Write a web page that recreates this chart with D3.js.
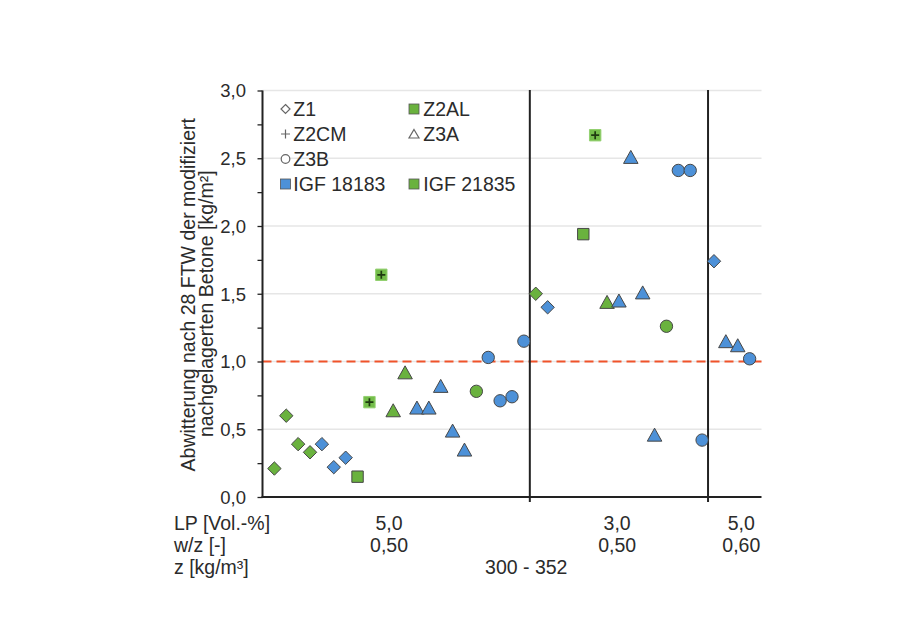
<!DOCTYPE html>
<html>
<head>
<meta charset="utf-8">
<script src="https://cdn.jsdelivr.net/npm/d3@7"></script>
<style>
  html, body { margin: 0; padding: 0; background: #fff; }
  svg text { font-family: "Liberation Sans", Arial, Helvetica, sans-serif; fill: #2b2b2b; }
</style>
</head>
<body>
<svg id="chart" width="909" height="639"></svg>
<script>
// Abwitterung nach 28 Frost-Tau-Wechseln, je Mischung und Forschungsprojekt
const positions = [1, 2, 3, 4, 5, 6, 7, 8, 9, 10, 11, 12, 13, 14, 15, 16, 17, 18, 19, 20, 21, 22,
                   23, 24, 27, 28, 29, 30, 31, 32, 33, 34, 35, 36, 37,
                   38, 39, 40, 41];
const scaling = [0.21, 0.60, 0.39, 0.33, 0.39, 0.22, 0.29, 0.15, 0.70, 1.64, 0.64, 0.92, 0.66, 0.66, 0.82, 0.49, 0.35, 0.78, 1.03, 0.71, 0.74, 1.15,
                 1.50, 1.40, 1.94, 2.67, 1.44, 1.45, 2.51, 1.51, 0.46, 1.26, 2.41, 2.41, 0.42,
                 1.74, 1.15, 1.12, 1.02];
const mixes = ["Z1", "Z1", "Z1", "Z1", "Z1", "Z1", "Z1", "Z2AL", "Z2CM", "Z2CM", "Z3A", "Z3A", "Z3A", "Z3A", "Z3A", "Z3A", "Z3A", "Z3B", "Z3B", "Z3B", "Z3B", "Z3B",
               "Z1", "Z1", "Z2AL", "Z2CM", "Z3A", "Z3A", "Z3A", "Z3A", "Z3A", "Z3B", "Z3B", "Z3B", "Z3B",
               "Z1", "Z3A", "Z3A", "Z3B"];
const projects = ["IGF 21835", "IGF 21835", "IGF 21835", "IGF 21835", "IGF 18183", "IGF 18183", "IGF 18183", "IGF 21835", "IGF 21835", "IGF 21835",
                  "IGF 21835", "IGF 21835", "IGF 18183", "IGF 18183", "IGF 18183", "IGF 18183", "IGF 18183", "IGF 21835", "IGF 18183", "IGF 18183", "IGF 18183", "IGF 18183",
                  "IGF 21835", "IGF 18183", "IGF 21835", "IGF 21835", "IGF 21835", "IGF 18183", "IGF 18183", "IGF 18183", "IGF 18183", "IGF 21835", "IGF 18183", "IGF 18183", "IGF 18183",
                  "IGF 18183", "IGF 18183", "IGF 18183", "IGF 18183"];

// group separators and the limit value
const separators = [22.5, 37.5];
const limitValue = 1.0;
const yTicks = [0, 0.5, 1.0, 1.5, 2.0, 2.5, 3.0];
const yMinorTicks = [0, 0.25, 0.5, 0.75, 1.0, 1.25, 1.5, 1.75, 2.0, 2.25, 2.5, 2.75, 3.0];

// parameter rows below the axis
const rowLabels = ["LP [Vol.-%]", "w/z [-]", "z [kg/m³]"];
const lpLabels = ["5,0", "3,0", "5,0"];
const wzLabels = ["0,50", "0,50", "0,60"];
const groupCentres = [10.65, 29.85, 40.3];
const cementLabel = "300 - 352";
const cementCentre = 22.2;

const legendItems = [
  { label: "Z1", kind: "Z1", col: 0, row: 0 },
  { label: "Z2AL", kind: "Z2AL", col: 1, row: 0 },
  { label: "Z2CM", kind: "Z2CM", col: 0, row: 1 },
  { label: "Z3A", kind: "Z3A", col: 1, row: 1 },
  { label: "Z3B", kind: "Z3B", col: 0, row: 2 },
  { label: "IGF 18183", kind: "IGF 18183", col: 0, row: 3 },
  { label: "IGF 21835", kind: "IGF 21835", col: 1, row: 3 }
];

const colour = { "IGF 18183": "#4d91d8", "IGF 21835": "#6ab23e" };
const outline = "#474747";
const fontSize = "19.5px";

const svg = d3.select("#chart");
const plotLeft = 262.5, plotRight = 761.5, plotTop = 90.5, plotBottom = 497;

const x = d3.scaleLinear().domain([0, 42]).range([plotLeft, plotRight]);
const y = d3.scaleLinear().domain([0, 3]).range([plotBottom, plotTop]);

// gridlines
svg.append("g").selectAll("line").data(yTicks.filter(d => d > 0)).join("line")
  .attr("x1", plotLeft).attr("x2", plotRight)
  .attr("y1", d => y(d)).attr("y2", d => y(d))
  .attr("stroke", "#e6e6e6").attr("stroke-width", 1.3);

// limit line
svg.append("line")
  .attr("x1", plotLeft).attr("x2", plotRight)
  .attr("y1", y(limitValue)).attr("y2", y(limitValue))
  .attr("stroke", "#f0532a").attr("stroke-width", 2)
  .attr("stroke-dasharray", "9,5");

// y axis
const yAxis = d3.axisLeft(y).tickValues(yMinorTicks).tickSize(5).tickFormat("");
const gy = svg.append("g").attr("transform", `translate(${plotLeft},0)`).call(yAxis);
gy.select(".domain").attr("stroke", "#222").attr("stroke-width", 2).attr("d", `M0,${plotBottom + 1}V${plotTop}`);
gy.selectAll(".tick line").attr("stroke", "#222").attr("stroke-width", 1.3);

svg.append("g").selectAll("text").data(yTicks).join("text")
  .attr("x", 246).attr("y", d => y(d) + 6.8)
  .attr("text-anchor", "end")
  .style("font-size", "18.5px")
  .text(d => d3.format(".1f")(d).replace(".", ","));

// separators
svg.append("g").selectAll("line").data(separators).join("line")
  .attr("x1", d => x(d)).attr("x2", d => x(d))
  .attr("y1", plotTop - 0.5).attr("y2", plotBottom + 5)
  .attr("stroke", "#222").attr("stroke-width", 2);

// x axis line
svg.append("line")
  .attr("x1", plotLeft - 1).attr("x2", plotRight)
  .attr("y1", plotBottom).attr("y2", plotBottom)
  .attr("stroke", "#222").attr("stroke-width", 2);

// marker shapes
function shapePath(kind) {
  if (kind === "Z1") { const r = 6.7; return `M0,${-r}L${r},0L0,${r}L${-r},0Z`; }
  if (kind === "Z3A") { const w = 14.5, h = 13; return `M0,${-h / 2}L${w / 2},${h / 2}L${-w / 2},${h / 2}Z`; }
  if (kind === "Z3B") { return d3.symbol(d3.symbolCircle, 120)(); }
  const s = 5.7; return `M${-s},${-s}H${s}V${s}H${-s}Z`;
}

const pts = positions.map((p, i) => ({ p, v: scaling[i], mix: mixes[i], proj: projects[i] }));
const marks = svg.append("g").selectAll("g").data(pts).join("g")
  .attr("transform", d => `translate(${x(d.p)},${y(d.v)})`);
marks.append("path")
  .attr("d", d => shapePath(d.mix))
  .attr("fill", d => d.mix === "Z2CM" ? "#74bd4a" : colour[d.proj])
  .attr("stroke", d => d.mix === "Z2CM" ? "#93d070" : outline)
  .attr("stroke-width", 1);
marks.filter(d => d.mix === "Z2CM").append("path")
  .attr("d", "M-4,0H4M0,-4V4")
  .attr("stroke", "#1e3a10").attr("stroke-width", 1.7);

// parameter rows
const rowBaselines = [530, 552, 574];
svg.append("g").selectAll("text").data(rowLabels).join("text")
  .attr("x", 174).attr("y", (d, i) => rowBaselines[i])
  .style("font-size", fontSize)
  .text(d => d);
svg.append("g").selectAll("text").data(lpLabels).join("text")
  .attr("x", (d, i) => x(groupCentres[i])).attr("y", rowBaselines[0])
  .attr("text-anchor", "middle").style("font-size", fontSize)
  .text(d => d);
svg.append("g").selectAll("text").data(wzLabels).join("text")
  .attr("x", (d, i) => x(groupCentres[i])).attr("y", rowBaselines[1])
  .attr("text-anchor", "middle").style("font-size", fontSize)
  .text(d => d);
svg.append("text")
  .attr("x", x(cementCentre)).attr("y", rowBaselines[2])
  .attr("text-anchor", "middle").style("font-size", fontSize)
  .text(cementLabel);

// y axis title (two lines)
const title = svg.append("text")
  .attr("transform", `translate(0,${(plotTop + plotBottom) / 2}) rotate(-90)`)
  .attr("text-anchor", "middle").style("font-size", fontSize);
title.append("tspan").attr("x", -1).attr("y", 195.3).text("Abwitterung nach 28 FTW der modifiziert");
title.append("tspan").attr("x", -10).attr("y", 212.7).text("nachgelagerten Betone [kg/m²]");

// legend
const legend = svg.append("g");
const colX = [285.5, 414], rowY = [109, 134, 159, 184];
const li = legend.selectAll("g").data(legendItems).join("g")
  .attr("transform", d => `translate(${colX[d.col]},${rowY[d.row]})`);
li.each(function (d) {
  const g = d3.select(this);
  if (d.kind === "Z1") g.append("path").attr("d", "M0,-4.5L4.5,0L0,4.5L-4.5,0Z").attr("fill", "#fff").attr("stroke", "#666").attr("stroke-width", 1.2);
  else if (d.kind === "Z2CM") g.append("path").attr("d", "M-4.5,0H4.5M0,-4.5V4.5").attr("stroke", "#666").attr("stroke-width", 1.2);
  else if (d.kind === "Z3B") g.append("circle").attr("r", 4.3).attr("fill", "#fff").attr("stroke", "#666").attr("stroke-width", 1.2);
  else if (d.kind === "Z3A") g.append("path").attr("d", "M0,-4.5L5,4L-5,4Z").attr("fill", "#fff").attr("stroke", "#666").attr("stroke-width", 1.2);
  else {
    const fill = d.kind === "Z2AL" ? colour["IGF 21835"] : colour[d.kind];
    g.append("rect").attr("x", -5).attr("y", -5).attr("width", 10).attr("height", 10)
      .attr("fill", fill).attr("stroke", "#555").attr("stroke-width", 0.8);
  }
  g.append("text").attr("x", d.col === 0 ? 7.8 : 9.3).attr("y", 7)
    .style("font-size", fontSize).text(d.label);
});
</script>
</body>
</html>
